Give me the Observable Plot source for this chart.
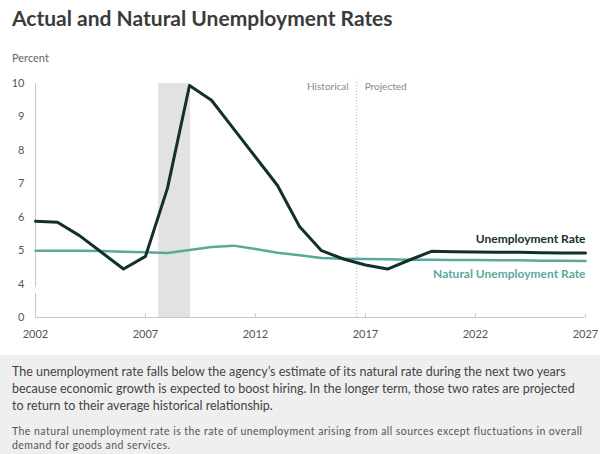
<!DOCTYPE html>
<html>
<head>
<meta charset="utf-8">
<script src="https://cdn.jsdelivr.net/npm/d3@7"></script>
<script src="https://cdn.jsdelivr.net/npm/@observablehq/plot@0.6"></script>
<style>
  html, body { margin: 0; padding: 0; background: #fff; }
  body { width: 600px; height: 454px; position: relative; overflow: hidden; font-family: Lato, "Open Sans", sans-serif; }
  #title { position: absolute; left: 12px; top: 5px; font-size: 21px; font-weight: 700; color: #3b3b3b; white-space: nowrap; }
  #ylabel { position: absolute; left: 12px; top: 51px; font-size: 11px; color: #666; }
  #chart { position: absolute; left: 0; top: 68px; }
  #note { position: absolute; left: 0; top: 355px; width: 600px; height: 99px; background: #efefef; }
  #p1 { position: absolute; left: 12px; top: 8px; font-size: 12.5px; line-height: 17px; color: #444; white-space: nowrap; }
  #p2 { position: absolute; left: 12px; top: 69px; font-size: 10.5px; letter-spacing: 0.45px; line-height: 14px; color: #555; white-space: nowrap; }
</style>
</head>
<body>
<div id="title">Actual and Natural Unemployment Rates</div>
<div id="ylabel">Percent</div>
<div id="chart"></div>
<div id="note">
  <div id="p1">The unemployment rate falls below the agency’s estimate of its natural rate during the next two years<br>because economic growth is expected to boost hiring. In the longer term, those two rates are projected<br>to return to their average historical relationship.</div>
  <div id="p2">The natural unemployment rate is the rate of unemployment arising from all sources except fluctuations in overall<br>demand for goods and services.</div>
</div>
<script>
const years = [2002,2003,2004,2005,2006,2007,2008,2009,2010,2011,2012,2013,2014,2015,2016,2017,2018,2019,2020,2021,2022,2023,2024,2025,2026,2027];
const unemployment = [5.88,5.85,5.45,4.95,4.45,4.83,6.87,9.94,9.5,8.65,7.8,6.95,5.72,5.0,4.75,4.57,4.45,4.72,4.98,4.97,4.96,4.95,4.95,4.94,4.93,4.93];
const natural = [5.0,5.0,5.0,4.99,4.97,4.95,4.93,5.02,5.11,5.15,5.05,4.94,4.86,4.78,4.76,4.75,4.74,4.73,4.73,4.72,4.72,4.71,4.71,4.70,4.70,4.69];
const xTicks = [2002,2007,2012,2017,2022,2027];
const yTicks = [3,4,5,6,7,8,9,10];
const yTickLabels = ["0","4","5","6","7","8","9","10"];
const recession = [{start: 2007.6, end: 2009.05}];
const divider = 2016.6;

const data = years.map((y, i) => ({year: y, u: unemployment[i], n: natural[i]}));

const chart = Plot.plot({
  width: 600,
  height: 279,
  marginLeft: 35,
  marginRight: 15,
  marginTop: 15,
  marginBottom: 30,
  style: {fontFamily: "Lato, 'Open Sans', sans-serif", fontSize: "11px", color: "#555", background: "transparent"},
  x: {domain: [2002, 2027], ticks: xTicks, tickFormat: d => String(d), tickSize: 0, tickPadding: 13},
  y: {domain: [3, 10], ticks: yTicks, tickFormat: d => yTickLabels[yTicks.indexOf(d)], tickSize: 0, tickPadding: 11},
  marks: [
    Plot.rect(recession, {x1: "start", x2: "end", y1: 3, y2: 10, fill: "#e2e2e2"}),
    Plot.ruleY([3], {stroke: "#c8c8c8", strokeWidth: 1}),
    Plot.ruleX([2002], {y1: 3, y2: 3.72, stroke: "#c8c8c8"}),
    Plot.ruleX([2002], {y1: 3.9, y2: 10, stroke: "#c8c8c8"}),
    Plot.ruleX(xTicks.slice(1), {y1: 3, y2: 3.1, stroke: "#c8c8c8"}),
    Plot.ruleX([divider], {y1: 3, y2: 10.1, stroke: "#b0b0b0", strokeDasharray: "1,2"}),
    Plot.text(["Historical"], {x: divider, y: 9.9, dx: -8, text: d => d, textAnchor: "end", fill: "#888", fontSize: 10}),
    Plot.text(["Projected"], {x: divider, y: 9.9, dx: 8, text: d => d, textAnchor: "start", fill: "#888", fontSize: 10}),
    Plot.line(data, {x: "year", y: "n", stroke: "#5aa89b", strokeWidth: 2.5}),
    Plot.line(data, {x: "year", y: "u", stroke: "#12302c", strokeWidth: 3}),
    Plot.text(["Unemployment Rate"], {x: 2027, y: 5.33, text: d => d, textAnchor: "end", fill: "#12302c", fontWeight: "bold", fontSize: 12}),
    Plot.text(["Natural Unemployment Rate"], {x: 2027, y: 4.31, text: d => d, textAnchor: "end", fill: "#5aa89b", fontWeight: "bold", fontSize: 12}),
    Plot.axisX({ticks: xTicks, tickFormat: d => String(d), tickSize: 0, tickPadding: 13, fill: "#555"}),
    Plot.axisY({ticks: yTicks, tickFormat: d => yTickLabels[yTicks.indexOf(d)], tickSize: 0, tickPadding: 11, fill: "#555"})
  ]
});
document.getElementById("chart").appendChild(chart);
</script>
</body>
</html>
